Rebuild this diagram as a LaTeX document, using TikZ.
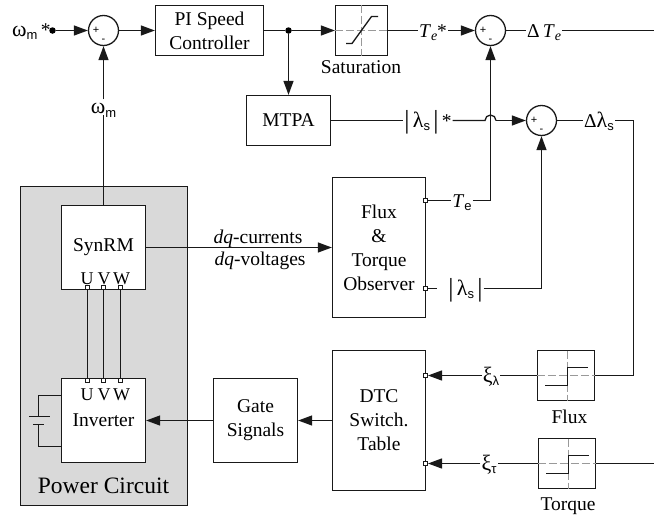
\documentclass[tikz,border=0pt]{standalone}
\usepackage{fontspec}
\setmainfont{Liberation Serif}
\setsansfont{Liberation Sans}
\usetikzlibrary{arrows.meta,calc}
\newcommand\subs[1]{\raisebox{-3.5pt}{\sffamily\fontsize{13}{13}\selectfont #1}}
\newcommand\subi[1]{\raisebox{-3.5pt}{\itshape\fontsize{14}{14}\selectfont #1}}
\newcommand\grk[1]{{\fontsize{22}{22}\selectfont #1}}
\newcommand\vbarsym{{\fontsize{26}{26}\selectfont\raisebox{-1.5pt}{|}}}
\tikzset{
  wire/.style={line width=1.3pt,draw=black!90},
  arrow/.style={wire,-{Triangle[length=14pt,width=10pt]}},
  blockbox/.style={draw=black!90,line width=1.3pt,fill=white,inner sep=0pt,align=center,font=\fontsize{19.5}{24}\selectfont},
  sumnode/.style={circle,draw=black!90,line width=1.3pt,fill=white,minimum size=30pt,inner sep=0pt},
  signs/.style={font=\sffamily\fontsize{11}{11}\selectfont,inner sep=0pt},
  lab/.style={inner sep=1pt,text height=13pt,text depth=0pt,font=\fontsize{19.5}{24}\selectfont},
  plain/.style={inner sep=0pt,font=\fontsize{19.5}{24}\selectfont},
  uvw/.style={inner sep=0pt,font=\fontsize{18}{20}\selectfont},
  port/.style={draw=black!90,line width=1pt,fill=white,minimum size=4pt,inner sep=0pt},
  dot/.style={circle,fill=black,minimum size=6.5pt,inner sep=0pt},
  guide/.style={draw=black!40,line width=1pt,dash pattern=on 8pt off 3pt},
  curve/.style={draw=black!90,line width=1.3pt},
}
\begin{document}
\begin{tikzpicture}[x=1pt,y=-1pt]
\useasboundingbox (0,0) rectangle (654,517);
% grey region
\fill[black!15] (20.5,186.5) rectangle (187.5,505.5);
\draw[black!90,line width=1.3pt] (20.5,186.5) rectangle (187.5,505.5);
\node[plain,font=\fontsize{23.5}{24}\selectfont,anchor=base] (power) at (103.5,493) {Power Circuit};

% blocks
\node[blockbox,minimum width=108pt,minimum height=50pt] (pi) at (209.5,30.5) {PI Speed\\Controller};
\node[blockbox,minimum width=84pt,minimum height=50pt] (mtpa) at (288.5,120.5) {MTPA};
\node[blockbox,minimum width=52pt,minimum height=50pt] (sat) at (361.5,30.5) {};
\node[blockbox,minimum width=93pt,minimum height=140pt] (obs) at (379,247.5) {Flux\\\&\\Torque\\Observer};
\node[blockbox,minimum width=93pt,minimum height=140pt] (dtc) at (379,420.5) {DTC\\Switch.\\Table};
\node[blockbox,minimum width=57pt,minimum height=50pt] (flux) at (566,375.5) {};
\node[blockbox,minimum width=57pt,minimum height=50pt] (torq) at (567,463.5) {};
\node[blockbox,minimum width=84pt,minimum height=84pt] (syn) at (103.5,247.5) {SynRM};
\node[blockbox,minimum width=84pt,minimum height=84pt] (inv) at (103.5,420.5) {Inverter};
\node[blockbox,minimum width=84pt,minimum height=84pt] (gate) at (255.5,420.5) {Gate\\Signals};

% block captions
\node[plain,anchor=base] (satcap) at (361,73.5) {Saturation};
\node[plain,anchor=base] (fluxcap) at (569.5,423.5) {Flux};
\node[plain,anchor=base] (torqcap) at (568,510) {Torque};

% UVW letters
\node[uvw,anchor=base] (su) at (87,284) {U};
\node[uvw,anchor=base] (sv) at (104,284) {V};
\node[uvw,anchor=base] (sw) at (121.5,284) {W};
\node[uvw,anchor=base] (iu) at (87,400) {U};
\node[uvw,anchor=base] (iv) at (104,400) {V};
\node[uvw,anchor=base] (iw) at (121.5,400) {W};

% summers
\node[sumnode] (sum1) at (103.5,30.5) {};
\node[sumnode] (sum2) at (490.5,30.5) {};
\node[sumnode] (sum3) at (541.5,120.5) {};
\foreach \s in {sum1,sum2,sum3}{
  \node[signs] at ($(\s)+(-7.5,0)$) {+};
  \node[signs] at ($(\s)+(0,10.5)$) {-};
}

% icons
\draw[guide] (sat.west) -- (sat.east);
\draw[guide] (sat.north) -- (sat.south);
\draw[curve] (346,43.5) -- (352,43.5) -- (371.5,16.5) -- (378,16.5);
\draw[guide] (flux.west) -- (flux.east);
\draw[guide] (567.5,350.5) -- (567.5,400.5);
\draw[curve] (545.3,385.5) -- (567.5,385.5) -- (567.5,367.5) -- (588,367.5);
\draw[guide] (torq.west) -- (torq.east);
\draw[guide] (568.5,438.5) -- (568.5,488.5);
\draw[curve] (546,473.5) -- (568.5,473.5) -- (568.5,455.5) -- (589,455.5);

% labels on wires
\node[plain,anchor=base west] (wstar) at (12,36) {\grk{ω}\subs{m}\,*};
\node[lab] (wm) at (103.5,107) {\grk{ω}\subs{m}};
\node[lab] (testar) at (433,30.5) {\textit{T}\subi{e}*};
\node[lab] (dte) at (544,30.5) {Δ\,\textit{T}\subi{e}};
\node[lab] (lamstar) at (428,120.5) {\vbarsym\,\grk{λ}\subs{s}\,\vbarsym\,*};
\node[lab] (dlam) at (599,120.5) {Δ\grk{λ}\subs{s}};
\node[lab] (te) at (462,200.5) {\textit{T}\subs{e}};
\node[lab] (lam) at (460.5,288.5) {\hspace*{10pt}\vbarsym\,\grk{λ}\subs{s}\,\vbarsym};
\node[lab] (xil) at (491,375.5) {\grk{ξ}\subs{λ}};
\node[lab] (xit) at (489,463.5) {\grk{ξ}\subs{τ}};
\node[plain,anchor=base] (dqc) at (258,243) {\textit{dq}-currents};
\node[plain,anchor=base] (dqv) at (260,265.5) {\textit{dq}-voltages};

% ports
\node[port] (pte) at (425.5,200.5) {};
\node[port] (plam) at (425.5,288.5) {};
\node[port] (pxil) at (425.5,375.5) {};
\node[port] (pxit) at (425.5,463.5) {};
\node[port] (su1) at (87.5,287.5) {};
\node[port] (sv1) at (103.5,287.5) {};
\node[port] (sw1) at (120.5,287.5) {};
\node[port] (iu1) at (87.5,380.5) {};
\node[port] (iv1) at (103.5,380.5) {};
\node[port] (iw1) at (120.5,380.5) {};

% dots and free points
\node[dot] (d1) at (52.5,30.5) {};
\node[dot] (d2) at (288.5,30.5) {};
\coordinate (bumpa) at (485,120.5);
\coordinate (bumpb) at (496,120.5);
\coordinate (c1) at (633.5,120.5);
\coordinate (c2) at (633.5,375.5);
\coordinate (endte) at (654,30.5);
\coordinate (endtq) at (654,463.5);

% connectors
\draw[arrow] (d1) -- (sum1);
\draw[arrow] (sum1) -- (pi);
\draw[wire] (pi) -- (d2);
\draw[arrow] (d2) -- (sat);
\draw[arrow] (d2) -- (mtpa);
\draw[wire] (sat) -- (testar);
\draw[arrow] (testar) -- (sum2);
\draw[wire] (sum2) -- (dte);
\draw[wire] (dte) -- (endte);
\draw[wire] (mtpa) -- (lamstar);
\draw[wire] (lamstar) -- (bumpa) arc[start angle=180,end angle=0,radius=5.5pt];
\draw[arrow] (bumpb) -- (sum3);
\draw[wire] (sum3) -- (dlam);
\draw[wire] (dlam) -- (c1) -- (c2) -- (flux);
\draw[wire] (pte) -- (te);
\draw[arrow] (te) -| (sum2);
\draw[wire] (plam) -- (lam);
\draw[arrow] (lam) -| (sum3);
\draw[wire] (flux) -- (xil);
\draw[arrow] (xil) -- (pxil);
\draw[wire] (torq) -- (xit);
\draw[arrow] (xit) -- (pxit);
\draw[wire] (endtq) -- (torq);
\draw[wire] (syn) -- (wm);
\draw[arrow] (wm) -- (sum1);
\draw[arrow] (syn.east) -- (obs.west);
\draw[arrow] (dtc) -- (gate);
\draw[arrow] (gate) -- (inv);
\draw[wire] (su1) -- (iu1);
\draw[wire] (sv1) -- (iv1);
\draw[wire] (sw1) -- (iw1);
% battery
\coordinate (ba) at (61.5,395.5);
\coordinate (bb) at (38.5,395.5);
\coordinate (bc) at (38.5,416.5);
\coordinate (bd) at (38.5,424.5);
\coordinate (be) at (38.5,446.5);
\coordinate (bf) at (61.5,446.5);
\draw[wire] (ba) -- (bb) -- (bc);
\draw[wire] (bd) -- (be) -- (bf);
\draw[wire] (29,416.5) -- (50,416.5);
\draw[wire] (33,424.5) -- (44,424.5);
\end{tikzpicture}
\end{document}
